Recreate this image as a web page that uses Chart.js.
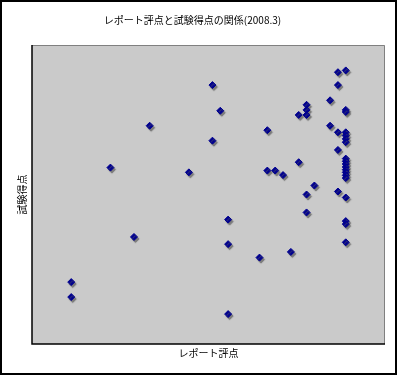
<!DOCTYPE html>
<html lang="ja">
<head>
<meta charset="utf-8">
<title>レポート評点と試験得点の関係(2008.3)</title>
<script src="https://cdn.jsdelivr.net/npm/chart.js@4.4.1/dist/chart.umd.min.js"></script>
<style>
  html, body { margin: 0; padding: 0; background: #fff; }
  canvas { display: block; }
</style>
</head>
<body>
<canvas id="scatterChart" width="398" height="376"></canvas>
<script>
// レポート評点 (x) と 試験得点 (y) — 図から読み取った値
const reportScores = [
  5, 5, 10, 13, 15, 20, 23, 23, 24, 25, 25, 25,
  29, 30, 30, 31, 32, 33, 34, 34, 35, 35, 35, 35, 35, 36,
  38, 38, 39, 39, 39, 39, 39,
  40, 40, 40, 40, 40, 40, 40, 40, 40, 40, 40, 40, 40, 40, 40, 40, 40, 40, 40
];
const examScores = [
  20.7, 15.7, 59, 35.8, 73, 57.4, 86.6, 68, 78, 41.6, 33.4, 10,
  28.9, 71.5, 58, 58, 56.5, 30.8, 76.6, 60.8, 80, 78.3, 76.6, 50, 44, 53,
  81.5, 73, 90.9, 86.6, 70.8, 64.9, 51,
  91.5, 78.3, 77.6, 70.8, 69.7, 68.6, 67.5, 62, 61.1, 60.2, 59.2, 58.3, 57.4, 56.4, 55.5, 49, 41.1, 40.1, 34
];

const xRange = [0, 45];
const yRange = [0, 100];

const chartTitle = 'レポート評点と試験得点の関係(2008.3)';
const xTitle = 'レポート評点';
const yTitle = '試験得点';

const FONT = '"Noto Sans CJK JP", "Noto Sans", sans-serif';

// frame, gray plot area and its borders
const framePlugin = {
  id: 'frame',
  beforeDraw(chart) {
    const ctx = chart.ctx;
    const {left, top, right, bottom} = chart.chartArea;
    ctx.save();
    ctx.fillStyle = '#fff';
    ctx.fillRect(0, 0, chart.width, chart.height);
    ctx.strokeStyle = '#000';
    ctx.lineWidth = 2;
    ctx.strokeRect(1, 1, 395, 373);

    ctx.fillStyle = '#cacaca';
    ctx.fillRect(left, top, right - left, bottom - top);

    ctx.lineWidth = 1;
    ctx.strokeStyle = '#808080';
    ctx.beginPath();
    ctx.moveTo(left, top + 0.5);
    ctx.lineTo(right - 0.5, top + 0.5);
    ctx.lineTo(right - 0.5, bottom);
    ctx.stroke();

    ctx.strokeStyle = '#000';
    ctx.lineWidth = 1.5;
    ctx.beginPath();
    ctx.moveTo(left, top);
    ctx.lineTo(left, bottom);
    ctx.lineTo(right, bottom);
    ctx.stroke();
    ctx.restore();
  }
};

// drop shadow under markers
const shadowPlugin = {
  id: 'markerShadow',
  beforeDatasetsDraw(chart) {
    const ctx = chart.ctx;
    ctx.save();
    ctx.shadowColor = 'rgba(90, 90, 90, 0.7)';
    ctx.shadowOffsetX = 1.5;
    ctx.shadowOffsetY = 2;
    ctx.shadowBlur = 1;
  },
  afterDatasetsDraw(chart) {
    chart.ctx.restore();
  }
};

new Chart(document.getElementById('scatterChart').getContext('2d'), {
  type: 'scatter',
  data: {
    datasets: [{
      label: yTitle,
      data: reportScores.map((x, i) => ({x, y: examScores[i]})),
      pointStyle: 'rectRot',
      pointRadius: 3.5,
      pointHoverRadius: 3.5,
      backgroundColor: '#000090',
      borderColor: '#000090',
      borderWidth: 1,
    }]
  },
  options: {
    responsive: false,
    animation: false,
    events: [],
    layout: { padding: { left: 0, right: 13, top: 0, bottom: 0 } },
    plugins: {
      legend: { display: false },
      tooltip: { enabled: false },
      title: {
        display: true,
        text: chartTitle,
        color: '#000',
        font: { family: FONT, size: 10, weight: 'normal', lineHeight: 1.2 },
        padding: { top: 14.5, bottom: 18.5 },
      },
    },
    scales: {
      x: {
        type: 'linear',
        min: xRange[0],
        max: xRange[1],
        grid: { display: false, drawTicks: false },
        border: { display: false },
        ticks: { display: false },
        title: {
          display: true,
          text: xTitle,
          color: '#000',
          font: { family: FONT, size: 10, lineHeight: 1.2 },
          padding: { top: 3, bottom: 17 },
        },
      },
      y: {
        type: 'linear',
        min: yRange[0],
        max: yRange[1],
        grid: { display: false, drawTicks: false },
        border: { display: false },
        ticks: { display: false },
        title: {
          display: true,
          text: yTitle,
          color: '#000',
          font: { family: FONT, size: 10, lineHeight: 1.2 },
          padding: { top: 16.5, bottom: 3.5 },
        },
      },
    },
  },
  plugins: [framePlugin, shadowPlugin],
});
</script>
</body>
</html>
